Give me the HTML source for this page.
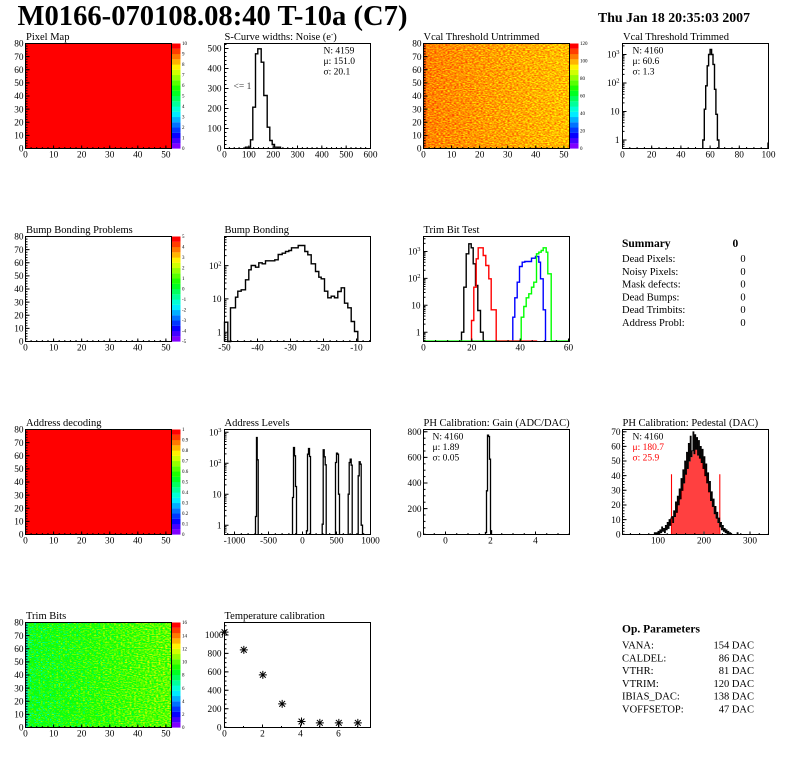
<!DOCTYPE html>
<html><head><meta charset="utf-8">
<style>
html,body{margin:0;padding:0;background:#fff;}
svg{display:block;font-family:"Liberation Serif","DejaVu Serif",serif;}
.t{font-size:10.5px;}
.xl{font-size:9.3px;text-anchor:middle;}
.yl{font-size:9.3px;text-anchor:end;}
.pl{font-size:5px;}
.st{font-size:9.5px;}
.sm{font-size:10.5px;}
.fr{fill:none;stroke:#000;stroke-width:1;}
.tk{fill:none;stroke:#000;stroke-width:1;}
.h{fill:none;stroke-width:1.4;}
</style></head><body>
<svg width="796" height="772" viewBox="0 0 796 772" xmlns="http://www.w3.org/2000/svg">
<defs>
<pattern id="dots" width="2" height="2" patternUnits="userSpaceOnUse"><rect width="2" height="2" fill="#ff0000"/><rect width="1" height="1" fill="#ffffff"/></pattern>
<pattern id="mxA" x="-0.5" y="0" width="5.615" height="2" patternUnits="userSpaceOnUse"><rect width="1" height="2" fill="#000"/></pattern>
<pattern id="mxB" x="-0.5" y="0" width="4.867" height="2" patternUnits="userSpaceOnUse"><rect width="1" height="2" fill="#000"/></pattern>
<pattern id="mxC" x="-0.5" y="0" width="7.3" height="2" patternUnits="userSpaceOnUse"><rect width="1" height="2" fill="#000"/></pattern>
<pattern id="mxD" x="-0.5" y="0" width="6.6" height="2" patternUnits="userSpaceOnUse"><rect width="1" height="2" fill="#000"/></pattern>
<pattern id="mxE" x="-0.5" y="0" width="12.08" height="2" patternUnits="userSpaceOnUse"><rect width="1" height="2" fill="#000"/></pattern>
<pattern id="mxF" x="2.7" y="0" width="6.8" height="2" patternUnits="userSpaceOnUse"><rect width="1" height="2" fill="#000"/></pattern>
<pattern id="mxG" x="10.25" y="0" width="11.25" height="2" patternUnits="userSpaceOnUse"><rect width="1" height="2" fill="#000"/></pattern>
<pattern id="mxH" x="7.4" y="0" width="9.2" height="2" patternUnits="userSpaceOnUse"><rect width="1" height="2" fill="#000"/></pattern>
<pattern id="mxI" x="-0.5" y="0" width="19" height="2" patternUnits="userSpaceOnUse"><rect width="1" height="2" fill="#000"/></pattern>
<pattern id="myA" x="0" y="-0.5" width="2" height="2.625" patternUnits="userSpaceOnUse"><rect width="2" height="1" fill="#000"/></pattern>
<pattern id="myB" x="0" y="0.5" width="2" height="4" patternUnits="userSpaceOnUse"><rect width="2" height="1" fill="#000"/></pattern>
<pattern id="myG" x="0" y="1.8" width="2" height="6.4" patternUnits="userSpaceOnUse"><rect width="2" height="1" fill="#000"/></pattern>
<pattern id="myH" x="0" y="1.79" width="2" height="2.926" patternUnits="userSpaceOnUse"><rect width="2" height="1" fill="#000"/></pattern>
<pattern id="myI" x="0" y="2.725" width="2" height="4.6125" patternUnits="userSpaceOnUse"><rect width="2" height="1" fill="#000"/></pattern>

<linearGradient id="gV" x1="0" y1="0" x2="1" y2="0"><stop offset="0" stop-color="rgb(224,224,224)"/><stop offset="1" stop-color="rgb(186,186,186)"/></linearGradient>
<linearGradient id="gT" x1="0" y1="0" x2="1" y2="0"><stop offset="0" stop-color="rgb(176,176,176)"/><stop offset="1" stop-color="rgb(217,217,217)"/></linearGradient>

<filter id="fV" x="0" y="0" width="1" height="1" color-interpolation-filters="sRGB">
<feTurbulence type="fractalNoise" baseFrequency="0.45 0.85" numOctaves="1" seed="7" result="t"/>
<feColorMatrix in="t" type="matrix" values="1 0 0 0 0  1 0 0 0 0  1 0 0 0 0  0 0 0 0 1" result="n"/>
<feComposite in="n" in2="SourceGraphic" operator="arithmetic" k1="0" k2="0.8" k3="1" k4="-0.8" result="x"/>
<feComponentTransfer in="x">
<feFuncR type="discrete" tableValues="1 1 1 1 1 1 1 1 1 1"/>
<feFuncG type="discrete" tableValues="1 1 0.9 0.72 0.55 0.4 0.25 0.1 0 0"/>
<feFuncB type="discrete" tableValues="0 0 0 0 0 0 0 0 0 0"/>
<feFuncA type="discrete" tableValues="1 1"/>
</feComponentTransfer>
</filter>
<filter id="fT" x="0" y="0" width="1" height="1" color-interpolation-filters="sRGB">
<feTurbulence type="fractalNoise" baseFrequency="0.45 0.85" numOctaves="1" seed="23" result="t"/>
<feColorMatrix in="t" type="matrix" values="1 0 0 0 0  1 0 0 0 0  1 0 0 0 0  0 0 0 0 1" result="n"/>
<feComposite in="n" in2="SourceGraphic" operator="arithmetic" k1="0" k2="0.8" k3="1" k4="-0.8" result="x"/>
<feComponentTransfer in="x">
<feFuncR type="discrete" tableValues="0 0 0 0.11 0.37 0.61 1 1 1 1"/>
<feFuncG type="discrete" tableValues="1 1 1 1 1 1 0.95 0.71 0.47 0.24"/>
<feFuncB type="discrete" tableValues="0.84 0.6 0.13 0 0 0 0 0 0 0"/>
<feFuncA type="discrete" tableValues="1 1"/>
</feComponentTransfer>
</filter>

<g id="pal">
<rect x="146" y="99.75" width="9" height="5.35" fill="#8000ff"/>
<rect x="146" y="94.5" width="9" height="5.35" fill="#4300ff"/>
<rect x="146" y="89.25" width="9" height="5.35" fill="#0700ff"/>
<rect x="146" y="84" width="9" height="5.35" fill="#0036ff"/>
<rect x="146" y="78.75" width="9" height="5.35" fill="#0072ff"/>
<rect x="146" y="73.5" width="9" height="5.35" fill="#00afff"/>
<rect x="146" y="68.25" width="9" height="5.35" fill="#00ebff"/>
<rect x="146" y="63" width="9" height="5.35" fill="#00ffd7"/>
<rect x="146" y="57.75" width="9" height="5.35" fill="#00ff9a"/>
<rect x="146" y="52.5" width="9" height="5.35" fill="#00ff5e"/>
<rect x="146" y="47.25" width="9" height="5.35" fill="#00ff22"/>
<rect x="146" y="42" width="9" height="5.35" fill="#1bff00"/>
<rect x="146" y="36.75" width="9" height="5.35" fill="#57ff00"/>
<rect x="146" y="31.5" width="9" height="5.35" fill="#94ff00"/>
<rect x="146" y="26.25" width="9" height="5.35" fill="#d0ff00"/>
<rect x="146" y="21" width="9" height="5.35" fill="#fff200"/>
<rect x="146" y="15.75" width="9" height="5.35" fill="#ffb500"/>
<rect x="146" y="10.5" width="9" height="5.35" fill="#ff7900"/>
<rect x="146" y="5.25" width="9" height="5.35" fill="#ff3c00"/>
<rect x="146" y="0" width="9" height="5.3" fill="#ff0000"/>
</g>
<g id="ax2d">
<rect x="-0.5" y="103.5" width="147" height="1.5" fill="url(#mxA)"/>
<rect x="0" y="-0.5" width="2" height="106" fill="url(#myA)"/>
<path class="tk" d="M0,105v-3M28.08,105v-3M56.15,105v-3M84.23,105v-3M112.31,105v-3M140.38,105v-3M0,91.88h4M0,78.75h4M0,65.63h4M0,52.5h4M0,39.38h4M0,26.25h4M0,13.13h4"/>
</g>
<path id="star" d="M-4,0h8M0,-4v8M-2.9,-2.9l5.8,5.8M-2.9,2.9l5.8,-5.8" fill="none" stroke="#000" stroke-width="1"/>
</defs>
<rect width="796" height="772" fill="#fff"/>
<text x="17.5" y="25" font-size="29" font-weight="bold" textLength="390" lengthAdjust="spacingAndGlyphs">M0166-070108.08:40 T-10a (C7)</text>
<text x="598" y="22" font-size="13.5" font-weight="bold" textLength="152" lengthAdjust="spacingAndGlyphs">Thu Jan 18 20:35:03 2007</text>

<!-- Row 1 -->
<g transform="translate(25.5,43.5)">
<rect width="146" height="105" fill="#ff0000"/>
<use href="#pal"/>
<rect class="fr" width="146" height="105"/>
<use href="#ax2d"/>
<text class="t" x="0.5" y="-3.5">Pixel Map</text>
<text class="xl" x="0" y="114">0</text><text class="xl" x="28.1" y="114">10</text><text class="xl" x="56.2" y="114">20</text><text class="xl" x="84.2" y="114">30</text><text class="xl" x="112.3" y="114">40</text><text class="xl" x="140.4" y="114">50</text>
<text class="yl" x="-2" y="108.2">0</text><text class="yl" x="-2" y="95.1">10</text><text class="yl" x="-2" y="82">20</text><text class="yl" x="-2" y="68.8">30</text><text class="yl" x="-2" y="55.7">40</text><text class="yl" x="-2" y="42.6">50</text><text class="yl" x="-2" y="29.5">60</text><text class="yl" x="-2" y="16.3">70</text><text class="yl" x="-2" y="3.2">80</text>
<text class="pl" x="156.5" y="106.7">0</text><text class="pl" x="156.5" y="96.2">1</text><text class="pl" x="156.5" y="85.7">2</text><text class="pl" x="156.5" y="75.2">3</text><text class="pl" x="156.5" y="64.7">4</text><text class="pl" x="156.5" y="54.2">5</text><text class="pl" x="156.5" y="43.7">6</text><text class="pl" x="156.5" y="33.2">7</text><text class="pl" x="156.5" y="22.7">8</text><text class="pl" x="156.5" y="12.2">9</text><text class="pl" x="156.5" y="1.7">10</text>
</g>

<g transform="translate(224.5,43.5)">
<path class="h" style="stroke:#000" d="M21,105V103.7H26V96.3H28.3V63.7H31V10.3H33.3V5.3H36.7V18.7H39.3V52H42.7V83.7H45.3V97H47.7V101H50V103.7H56V105"/>
<rect class="fr" width="146" height="105"/>
<rect x="-0.5" y="103.5" width="147" height="1.5" fill="url(#mxB)"/>
<rect x="0" y="-0.5" width="2" height="106" fill="url(#myB)"/>
<path class="tk" d="M24.33,105v-3M48.67,105v-3M73,105v-3M97.33,105v-3M121.67,105v-3M0,85h4M0,65h4M0,45h4M0,25h4M0,5h4"/>
<text class="t" x="0" y="-3.5">S-Curve widths: Noise (e<tspan dy="-3.5" font-size="7">-</tspan><tspan dy="3.5">)</tspan></text>
<text class="xl" x="0" y="114">0</text><text class="xl" x="24.3" y="114">100</text><text class="xl" x="48.7" y="114">200</text><text class="xl" x="73" y="114">300</text><text class="xl" x="97.3" y="114">400</text><text class="xl" x="121.7" y="114">500</text><text class="xl" x="146" y="114">600</text>
<text class="yl" x="-3" y="108.2">0</text><text class="yl" x="-3" y="88.2">100</text><text class="yl" x="-3" y="68.2">200</text><text class="yl" x="-3" y="48.2">300</text><text class="yl" x="-3" y="28.2">400</text><text class="yl" x="-3" y="8.2">500</text>
<text class="st" x="99" y="10">N: 4159</text>
<text class="st" x="99" y="20.5">μ: 151.0</text>
<text class="st" x="99" y="31">σ: 20.1</text>
<text class="st" x="9" y="45.3" fill="#333">&lt;= 1</text>
</g>

<g transform="translate(423.5,43.5)">
<rect width="146" height="105" fill="url(#gV)" filter="url(#fV)"/>
<rect x="0" y="0" width="2.8" height="105" fill="#ff4a00" opacity="0.7"/>
<use href="#pal"/>
<rect class="fr" width="146" height="105"/>
<use href="#ax2d"/>
<text class="t" x="0" y="-3.5">Vcal Threshold Untrimmed</text>
<text class="xl" x="0" y="114">0</text><text class="xl" x="28.1" y="114">10</text><text class="xl" x="56.2" y="114">20</text><text class="xl" x="84.2" y="114">30</text><text class="xl" x="112.3" y="114">40</text><text class="xl" x="140.4" y="114">50</text>
<text class="yl" x="-2" y="108.2">0</text><text class="yl" x="-2" y="95.1">10</text><text class="yl" x="-2" y="82">20</text><text class="yl" x="-2" y="68.8">30</text><text class="yl" x="-2" y="55.7">40</text><text class="yl" x="-2" y="42.6">50</text><text class="yl" x="-2" y="29.5">60</text><text class="yl" x="-2" y="16.3">70</text><text class="yl" x="-2" y="3.2">80</text>
<text class="pl" x="156.5" y="106.7">0</text><text class="pl" x="156.5" y="89.2">20</text><text class="pl" x="156.5" y="71.7">40</text><text class="pl" x="156.5" y="54.2">60</text><text class="pl" x="156.5" y="36.7">80</text><text class="pl" x="156.5" y="19.2">100</text><text class="pl" x="156.5" y="1.7">120</text>
</g>

<g transform="translate(622.5,43.5)">
<path class="h" style="stroke:#000" d="M80.3,105V96.5H81.8V65.7H83.2V42.3H84.7V22.3H86.1V11H87.6V6H89.1V11H90.5V20.9H92V45.8H93.4V70.8H94.9V96.5H96.4V105M145.5,105V99"/>
<rect class="fr" width="146" height="105"/>
<rect x="-0.5" y="103.5" width="147" height="1.5" fill="url(#mxC)"/>
<path class="tk" d="M29.2,105v-3M58.4,105v-3M87.6,105v-3M116.8,105v-3M0,96.5h4M0,68h4M0,39.5h4M0,11h4M0,102.8h2M0,100.9h2M0,99.3h2M0,97.8h2M0,87.9h2M0,82.9h2M0,79.3h2M0,76.6h2M0,74.3h2M0,72.4h2M0,70.8h2M0,69.3h2M0,59.4h2M0,54.4h2M0,50.8h2M0,48.1h2M0,45.8h2M0,43.9h2M0,42.3h2M0,40.8h2M0,30.9h2M0,25.9h2M0,22.3h2M0,19.6h2M0,17.3h2M0,15.4h2M0,13.8h2M0,12.3h2M0,2.4h2"/>
<text class="t" x="0.5" y="-3.5">Vcal Threshold Trimmed</text>
<text class="xl" x="0" y="114">0</text><text class="xl" x="29.2" y="114">20</text><text class="xl" x="58.4" y="114">40</text><text class="xl" x="87.6" y="114">60</text><text class="xl" x="116.8" y="114">80</text><text class="xl" x="146" y="114">100</text>
<text class="yl" x="-3" y="99.7">1</text><text class="yl" x="-3" y="71.2">10</text><text class="yl" x="-3" y="42.7">10<tspan dy="-3.5" font-size="6.5">2</tspan></text><text class="yl" x="-3" y="14.2">10<tspan dy="-3.5" font-size="6.5">3</tspan></text>
<text class="st" x="10" y="10">N: 4160</text>
<text class="st" x="10" y="20.5">μ: 60.6</text>
<text class="st" x="10" y="31">σ:  1.3</text>
</g>

<!-- Row 2 -->
<g transform="translate(25.5,236.5)">
<use href="#pal"/>
<rect class="fr" width="146" height="105"/>
<use href="#ax2d"/>
<text class="t" x="0.5" y="-3.5">Bump Bonding Problems</text>
<text class="xl" x="0" y="114">0</text><text class="xl" x="28.1" y="114">10</text><text class="xl" x="56.2" y="114">20</text><text class="xl" x="84.2" y="114">30</text><text class="xl" x="112.3" y="114">40</text><text class="xl" x="140.4" y="114">50</text>
<text class="yl" x="-2" y="108.2">0</text><text class="yl" x="-2" y="95.1">10</text><text class="yl" x="-2" y="82">20</text><text class="yl" x="-2" y="68.8">30</text><text class="yl" x="-2" y="55.7">40</text><text class="yl" x="-2" y="42.6">50</text><text class="yl" x="-2" y="29.5">60</text><text class="yl" x="-2" y="16.3">70</text><text class="yl" x="-2" y="3.2">80</text>
<text class="pl" x="156.5" y="106.7">-5</text><text class="pl" x="156.5" y="96.2">-4</text><text class="pl" x="156.5" y="85.7">-3</text><text class="pl" x="156.5" y="75.2">-2</text><text class="pl" x="156.5" y="64.7">-1</text><text class="pl" x="156.5" y="54.2">0</text><text class="pl" x="156.5" y="43.7">1</text><text class="pl" x="156.5" y="33.2">2</text><text class="pl" x="156.5" y="22.7">3</text><text class="pl" x="156.5" y="12.2">4</text><text class="pl" x="156.5" y="1.7">5</text>
</g>

<g transform="translate(224.5,236.5)">
<path class="h" style="stroke:#000" d="M0,105V85.7H3.3V105H6V71.3H11V60.7H13.3V54.7H16.7V53.3H21V43.3H24.3V33.3H26.7V29H31V30.7H34.3V26.3H37.7V27.3H41V24.3H50.3V23.3H53.7V18H57.7V16.7H61V15H64.3V14H67V11.3H73.7V9H80.3V15H83.3V18.3H86.7V27.3H91V35H94.3V40.7H96.7V42.3H100V54.7H103.3V61.3H106.7V59.7H110V61.3H113.3V55H116.7V51.3H120V66.7H123.3V71.3H126.7V85H130V95H133.3V105"/>
<rect class="fr" width="146" height="105"/>
<rect x="-0.5" y="103.5" width="147" height="1.5" fill="url(#mxD)"/>
<path class="tk" d="M33,105v-3M66,105v-3M99,105v-3M132,105v-3M0,95.7h4M0,62.4h4M0,29.1h4M0,103.1h2M0,100.9h2M0,98.9h2M0,97.2h2M0,85.7h2M0,79.8h2M0,75.7h2M0,72.4h2M0,69.8h2M0,67.6h2M0,65.6h2M0,63.9h2M0,52.4h2M0,46.5h2M0,42.4h2M0,39.1h2M0,36.5h2M0,34.3h2M0,32.3h2M0,30.6h2M0,19.1h2M0,13.2h2M0,9.1h2M0,5.8h2M0,3.2h2M0,1h2"/>
<text class="t" x="0" y="-3.5">Bump Bonding</text>
<text class="xl" x="0" y="114">-50</text><text class="xl" x="33" y="114">-40</text><text class="xl" x="66" y="114">-30</text><text class="xl" x="99" y="114">-20</text><text class="xl" x="132" y="114">-10</text>
<text class="yl" x="-3" y="98.9">1</text><text class="yl" x="-3" y="65.6">10</text><text class="yl" x="-3" y="32.3">10<tspan dy="-3.5" font-size="6.5">2</tspan></text>
</g>

<g transform="translate(423.5,236.5)">
<path class="h" style="stroke:#000000" d="M38,105V95.7H40.3V50.7H42.7V17.3H45.3V7.3H47.7V11.3H49.7V27.3H52V49H54.3V74H57V95.7H59.7V105"/>
<path class="h" style="stroke:#ff0000" d="M48,105V84H50.3V50.7H52.7V22.3H54.7V11.3H59.7V19H62.3V29H65.3V42.3H67.7V73.3H72.7V105"/>
<path class="h" style="stroke:#0000ff" d="M89.3,105V80.7H91.3V61.3H93.7V45.7H96V30H98.7V25.7H101.3V25H108V21.7H112V20H115.3V25.7H117V42.3H119.7V73.3H122V105"/>
<path class="h" style="stroke:#00ff00" d="M0,104.6H97.7V80.7H100.3V70H102.7V61.3H105.3V57.3H108V50.7H110.3V45.7H113V17.3H115.3V15.7H117.7V14H119.7V11.3H122.7V15.7H124.3V37.3H127.7V104.6H146"/>
<path class="h" style="stroke:#ff0000" d="M72.7,104.6H113.7"/>
<rect class="fr" width="146" height="105"/>
<rect x="-0.5" y="103.5" width="147" height="1.5" fill="url(#mxE)"/>
<path class="tk" d="M48.33,105v-3M96.67,105v-3M145,105v-3M0,95.7h4M0,68.8h4M0,41.9h4M0,15h4M0,103.8h2M0,101.7h2M0,99.9h2M0,98.3h2M0,96.9h2M0,87.6h2M0,82.9h2M0,79.5h2M0,76.9h2M0,74.8h2M0,73h2M0,71.4h2M0,70h2M0,60.7h2M0,56h2M0,52.6h2M0,50h2M0,47.9h2M0,46.1h2M0,44.5h2M0,43.1h2M0,33.8h2M0,29.1h2M0,25.7h2M0,23.1h2M0,21h2M0,19.2h2M0,17.6h2M0,16.2h2M0,6.9h2M0,2.2h2"/>
<text class="t" x="0" y="-3.5">Trim Bit Test</text>
<text class="xl" x="0" y="114">0</text><text class="xl" x="48.3" y="114">20</text><text class="xl" x="96.7" y="114">40</text><text class="xl" x="145" y="114">60</text>
<text class="yl" x="-3" y="98.9">1</text><text class="yl" x="-3" y="72">10</text><text class="yl" x="-3" y="45.1">10<tspan dy="-3.5" font-size="6.5">2</tspan></text><text class="yl" x="-3" y="18.2">10<tspan dy="-3.5" font-size="6.5">3</tspan></text>
</g>

<text x="622" y="247" font-size="11.5" font-weight="bold">Summary</text>
<text x="732.5" y="247" font-size="11.5" font-weight="bold">0</text>
<text class="sm" x="622" y="262">Dead Pixels:</text><text class="sm" x="743" y="262" text-anchor="middle">0</text>
<text class="sm" x="622" y="274.8">Noisy Pixels:</text><text class="sm" x="743" y="274.8" text-anchor="middle">0</text>
<text class="sm" x="622" y="287.6">Mask defects:</text><text class="sm" x="743" y="287.6" text-anchor="middle">0</text>
<text class="sm" x="622" y="300.4">Dead Bumps:</text><text class="sm" x="743" y="300.4" text-anchor="middle">0</text>
<text class="sm" x="622" y="313.2">Dead Trimbits:</text><text class="sm" x="743" y="313.2" text-anchor="middle">0</text>
<text class="sm" x="622" y="326">Address Probl:</text><text class="sm" x="743" y="326" text-anchor="middle">0</text>

<!-- Row 3 -->
<g transform="translate(25.5,429.5)">
<rect width="146" height="105" fill="#ff0000"/>
<use href="#pal"/>
<rect class="fr" width="146" height="105"/>
<use href="#ax2d"/>
<text class="t" x="0.5" y="-3.5">Address decoding</text>
<text class="xl" x="0" y="114">0</text><text class="xl" x="28.1" y="114">10</text><text class="xl" x="56.2" y="114">20</text><text class="xl" x="84.2" y="114">30</text><text class="xl" x="112.3" y="114">40</text><text class="xl" x="140.4" y="114">50</text>
<text class="yl" x="-2" y="108.2">0</text><text class="yl" x="-2" y="95.1">10</text><text class="yl" x="-2" y="82">20</text><text class="yl" x="-2" y="68.8">30</text><text class="yl" x="-2" y="55.7">40</text><text class="yl" x="-2" y="42.6">50</text><text class="yl" x="-2" y="29.5">60</text><text class="yl" x="-2" y="16.3">70</text><text class="yl" x="-2" y="3.2">80</text>
<text class="pl" x="156.5" y="106.7">0</text><text class="pl" x="156.5" y="96.2">0.1</text><text class="pl" x="156.5" y="85.7">0.2</text><text class="pl" x="156.5" y="75.2">0.3</text><text class="pl" x="156.5" y="64.7">0.4</text><text class="pl" x="156.5" y="54.2">0.5</text><text class="pl" x="156.5" y="43.7">0.6</text><text class="pl" x="156.5" y="33.2">0.7</text><text class="pl" x="156.5" y="22.7">0.8</text><text class="pl" x="156.5" y="12.2">0.9</text><text class="pl" x="156.5" y="1.7">1</text>
</g>

<g transform="translate(224.5,429.5)">
<path class="h" style="stroke:#000;stroke-width:1.3" d="M31,105V87H32V8H32.7V30.3H33.7V105M68,105V68H69V18H70V26.3H71V57H72V105M82,105V101.3H83V24.7H84V19H85V27H86V105M97.7,105V94.7H98.7V20.3H99.7V27.3H100.7V35.3H101.7V105M111,105V33H112V23.7H113V24.7H114V64.7H115V105M123.7,105V64.7H124.7V33H125.7V29.7H126.7V35.7H127.7V105M133.7,105V46.3H134.7V32.3H135.7V34.7H136.7V95.7H138V105"/>
<rect class="fr" width="146" height="105"/>
<rect x="-0.5" y="103.5" width="147" height="1.5" fill="url(#mxF)"/>
<path class="tk" d="M10,105v-3M44,105v-3M78,105v-3M112,105v-3M0,95.7h4M0,64.7h4M0,33.7h4M0,2.7h4M0,102.6h2M0,100.5h2M0,98.7h2M0,97.1h2M0,86.4h2M0,80.9h2M0,77h2M0,74h2M0,71.6h2M0,69.5h2M0,67.7h2M0,66.1h2M0,55.4h2M0,49.9h2M0,46h2M0,43h2M0,40.6h2M0,38.5h2M0,36.7h2M0,35.1h2M0,24.4h2M0,18.9h2M0,15h2M0,12h2M0,9.6h2M0,7.5h2M0,5.7h2M0,4.1h2"/>
<text class="t" x="0" y="-3.5">Address Levels</text>
<text class="xl" x="10" y="114">-1000</text><text class="xl" x="44" y="114">-500</text><text class="xl" x="78" y="114">0</text><text class="xl" x="112" y="114">500</text><text class="xl" x="146" y="114">1000</text>
<text class="yl" x="-3" y="98.9">1</text><text class="yl" x="-3" y="67.9">10</text><text class="yl" x="-3" y="36.9">10<tspan dy="-3.5" font-size="6.5">2</tspan></text><text class="yl" x="-3" y="5.9">10<tspan dy="-3.5" font-size="6.5">3</tspan></text>
</g>

<g transform="translate(423.5,429.5)">
<path class="h" style="stroke:#000;stroke-width:1.3" d="M62,105V103H63V61.3H64V5.7H65V7H66V29.7H67V101.3H68V105"/>
<rect class="fr" width="146" height="105"/>
<rect x="-0.5" y="103.5" width="147" height="1.5" fill="url(#mxG)"/>
<rect x="0" y="-0.5" width="2" height="106" fill="url(#myG)"/>
<path class="tk" d="M22,105v-3M67,105v-3M112,105v-3M0,79.1h4M0,53.5h4M0,27.9h4M0,2.3h4"/>
<text class="t" x="0" y="-3.5">PH Calibration: Gain (ADC/DAC)</text>
<text class="xl" x="22" y="114">0</text><text class="xl" x="67" y="114">2</text><text class="xl" x="112" y="114">4</text>
<text class="yl" x="-2" y="107.9">0</text><text class="yl" x="-2" y="82.3">200</text><text class="yl" x="-2" y="56.7">400</text><text class="yl" x="-2" y="31.1">600</text><text class="yl" x="-2" y="5.5">800</text>
<text class="st" x="9" y="10">N: 4160</text>
<text class="st" x="9" y="20.5">μ: 1.89</text>
<text class="st" x="9" y="31">σ: 0.05</text>
</g>

<g transform="translate(622.5,429.5)">
<path fill="url(#dots)" stroke="none" d="M49,105V88.6H49.3V87.1H50.22V93H51.14V81.3H52.06V87.1H52.98V72.5H53.9V82.8H54.82V66.7H55.74V75.4H56.66V59.4H57.58V69.6H58.5V49.1H59.42V60.8H60.34V40.3H61.26V53.5H62.18V31.6H63.1V44.7H64.02V22.8H64.94V38.9H65.86V14H66.78V31.6H67.7V6.7H68.62V27.2H69.54V21.3H70.46V2.3H71.38V24.2H72.3V5.2H73.22V19.8H74.14V8.1H75.06V25.7H75.98V11.1H76.9V28.6H77.82V16.9H78.74V33H79.66V19.8H80.58V38.9H81.5V27.2H82.42V46.2H83.34V34.5H84.26V53.5H85.18V43.3H86.1V62.3H87.02V52H87.94V71.1H88.86V62.3H89.78V76.9H90.7V69.6H91.62V84.2H92.54V76.9H93.46V88.6H94.38V82.8H95.3V93H96.22V88.6H97.14V97.4H97.28V105Z"/>
<path fill="none" stroke="#ff0000" stroke-width="1.1" d="M49,105V44.7M97.3,105V44.7"/>
<path class="h" style="stroke:#000;stroke-width:0.9" d="M31.82,105V103.2H32.74V105H33.66V103.2H34.58V105H35.5V101.8H36.42V105H37.34V100.3H38.26V103.2H39.18V97.4H40.1V101.8H41.02V98.9H41.94V103.2H42.86V95.9H43.78V100.3H44.7V93H45.62V98.9H46.54V90.1H47.46V95.9H48.38V88.6H49.3V87.1H50.22V93H51.14V81.3H52.06V87.1H52.98V72.5H53.9V82.8H54.82V66.7H55.74V75.4H56.66V59.4H57.58V69.6H58.5V49.1H59.42V60.8H60.34V40.3H61.26V53.5H62.18V31.6H63.1V44.7H64.02V22.8H64.94V38.9H65.86V14H66.78V31.6H67.7V6.7H68.62V27.2H69.54V21.3H70.46V2.3H71.38V24.2H72.3V5.2H73.22V19.8H74.14V8.1H75.06V25.7H75.98V11.1H76.9V28.6H77.82V16.9H78.74V33H79.66V19.8H80.58V38.9H81.5V27.2H82.42V46.2H83.34V34.5H84.26V53.5H85.18V43.3H86.1V62.3H87.02V52H87.94V71.1H88.86V62.3H89.78V76.9H90.7V69.6H91.62V84.2H92.54V76.9H93.46V88.6H94.38V82.8H95.3V93H96.22V88.6H97.14V97.4H98.06V93H98.98V100.3H99.9V95.9H100.82V101.8H101.74V98.9H102.66V103.2H103.58V100.3H104.5V105H105.42V101.8H106.34V105H107.26V103.2H108.18V105M114.62,105V103.2H115.54V105"/>
<rect class="fr" width="146" height="105"/>
<rect x="-0.5" y="103.5" width="147" height="1.5" fill="url(#mxH)"/>
<rect x="0" y="-0.5" width="2" height="106" fill="url(#myH)"/>
<path class="tk" d="M35.5,105v-3M81.5,105v-3M127.5,105v-3M0,90.07h4M0,75.44h4M0,60.81h4M0,46.18h4M0,31.55h4M0,16.92h4M0,2.29h4"/>
<text class="t" x="0" y="-3.5">PH Calibration: Pedestal (DAC)</text>
<text class="xl" x="35.5" y="114">100</text><text class="xl" x="81.5" y="114">200</text><text class="xl" x="127.5" y="114">300</text>
<text class="yl" x="-2" y="107.9">0</text><text class="yl" x="-2" y="93.3">10</text><text class="yl" x="-2" y="78.6">20</text><text class="yl" x="-2" y="64">30</text><text class="yl" x="-2" y="49.3">40</text><text class="yl" x="-2" y="34.7">50</text><text class="yl" x="-2" y="20.1">60</text><text class="yl" x="-2" y="5.5">70</text>
<text class="st" x="10" y="10">N: 4160</text>
<text class="st" x="10" y="20.5" fill="#ff0000">μ: 180.7</text>
<text class="st" x="10" y="31" fill="#ff0000">σ: 25.9</text>
</g>

<!-- Row 4 -->
<g transform="translate(25.5,622.5)">
<rect width="146" height="105" fill="url(#gT)" filter="url(#fT)"/>
<rect x="0" y="0" width="2.8" height="105" fill="#00e0ff" opacity="0.5"/>
<use href="#pal"/>
<rect class="fr" width="146" height="105"/>
<use href="#ax2d"/>
<text class="t" x="0.5" y="-3.5">Trim Bits</text>
<text class="xl" x="0" y="114">0</text><text class="xl" x="28.1" y="114">10</text><text class="xl" x="56.2" y="114">20</text><text class="xl" x="84.2" y="114">30</text><text class="xl" x="112.3" y="114">40</text><text class="xl" x="140.4" y="114">50</text>
<text class="yl" x="-2" y="108.2">0</text><text class="yl" x="-2" y="95.1">10</text><text class="yl" x="-2" y="82">20</text><text class="yl" x="-2" y="68.8">30</text><text class="yl" x="-2" y="55.7">40</text><text class="yl" x="-2" y="42.6">50</text><text class="yl" x="-2" y="29.5">60</text><text class="yl" x="-2" y="16.3">70</text><text class="yl" x="-2" y="3.2">80</text>
<text class="pl" x="156.5" y="106.7">0</text><text class="pl" x="156.5" y="93.6">2</text><text class="pl" x="156.5" y="80.5">4</text><text class="pl" x="156.5" y="67.3">6</text><text class="pl" x="156.5" y="54.2">8</text><text class="pl" x="156.5" y="41.1">10</text><text class="pl" x="156.5" y="28">12</text><text class="pl" x="156.5" y="14.8">14</text><text class="pl" x="156.5" y="1.7">16</text>
</g>

<g transform="translate(224.5,622.5)">
<rect class="fr" width="146" height="105"/>
<rect x="-0.5" y="103.5" width="147" height="1.5" fill="url(#mxI)"/>
<rect x="0" y="-0.5" width="2" height="106" fill="url(#myI)"/>
<path class="tk" d="M38,105v-3M76,105v-3M114,105v-3M0,86.25h4M0,67.8h4M0,49.35h4M0,30.9h4M0,12.45h4"/>
<use href="#star" x="0" y="9.67"/>
<use href="#star" x="19.33" y="27.33"/>
<use href="#star" x="38.33" y="52.33"/>
<use href="#star" x="57.67" y="81.33"/>
<use href="#star" x="77" y="99"/>
<use href="#star" x="95.33" y="100.33"/>
<use href="#star" x="114.33" y="100.33"/>
<use href="#star" x="133.33" y="100.33"/>
<text class="t" x="0" y="-3.5">Temperature calibration</text>
<text class="xl" x="0" y="114">0</text><text class="xl" x="38" y="114">2</text><text class="xl" x="76" y="114">4</text><text class="xl" x="114" y="114">6</text>
<text class="yl" x="-3" y="107.9">0</text><text class="yl" x="-3" y="89.5">200</text><text class="yl" x="-3" y="71">400</text><text class="yl" x="-3" y="52.6">600</text><text class="yl" x="-3" y="34.1">800</text><text class="yl" x="-1" y="15.7">1000</text>
</g>

<text x="622" y="632.5" font-size="11.5" font-weight="bold">Op. Parameters</text>
<text class="sm" x="622" y="648.5">VANA:</text><text class="sm" x="754" y="648.5" text-anchor="end">154 DAC</text>
<text class="sm" x="622" y="661.3">CALDEL:</text><text class="sm" x="754" y="661.3" text-anchor="end">86 DAC</text>
<text class="sm" x="622" y="674.1">VTHR:</text><text class="sm" x="754" y="674.1" text-anchor="end">81 DAC</text>
<text class="sm" x="622" y="686.9">VTRIM:</text><text class="sm" x="754" y="686.9" text-anchor="end">120 DAC</text>
<text class="sm" x="622" y="699.7">IBIAS_DAC:</text><text class="sm" x="754" y="699.7" text-anchor="end">138 DAC</text>
<text class="sm" x="622" y="712.5">VOFFSETOP:</text><text class="sm" x="754" y="712.5" text-anchor="end">47 DAC</text>
</svg>
</body></html>
